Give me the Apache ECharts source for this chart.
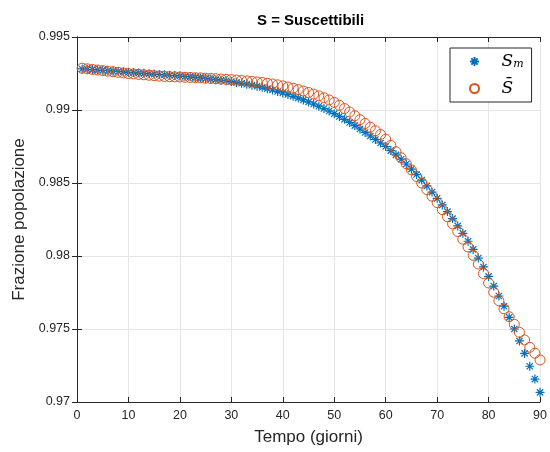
<!DOCTYPE html>
<html>
<head>
<meta charset="UTF-8">
<title>S = Suscettibili</title>
<style>
  *{margin:0;padding:0;}
  body{background:#fff;}
  #chart{width:550px;height:452px;}
</style>
</head>
<body>
<div id="chart"></div>
<script src="https://cdn.jsdelivr.net/npm/echarts@6/dist/echarts.min.js"></script>
<script>
// giorni 1..90
var giorni = [];
for (var g = 1; g <= 90; g++) giorni.push(g);

// S_m (asterischi blu)
var sMedio = [
  0.99281, 0.99279, 0.99277, 0.99274, 0.99272, 0.99269, 0.99266, 0.99264, 0.99261, 0.99258,
  0.99256, 0.99253, 0.99251, 0.99248, 0.99246, 0.99243, 0.99241, 0.99238, 0.99236, 0.99233,
  0.99230, 0.99227, 0.99223, 0.99220, 0.99216, 0.99212, 0.99208, 0.99204, 0.99200, 0.99195,
  0.99189, 0.99183, 0.99177, 0.99170, 0.99163, 0.99155, 0.99146, 0.99137, 0.99127, 0.99117,
  0.99106, 0.99094, 0.99082, 0.99069, 0.99055, 0.99041, 0.99026, 0.99010, 0.98993, 0.98975,
  0.98956, 0.98936, 0.98915, 0.98893, 0.98870, 0.98846, 0.98822, 0.98798, 0.98774, 0.98750,
  0.98722, 0.98693, 0.98663, 0.98630, 0.98595, 0.98558, 0.98520, 0.98480, 0.98438, 0.98395,
  0.98350, 0.98304, 0.98256, 0.98206, 0.98155, 0.98101, 0.98045, 0.97986, 0.97925, 0.97860,
  0.97794, 0.97726, 0.97656, 0.97580, 0.97500, 0.97418, 0.97333, 0.97245, 0.97157, 0.97066
];

// S barrato (cerchi arancioni)
var sBarra = [
  0.99286, 0.99282, 0.99278, 0.99274, 0.99270, 0.99266, 0.99262, 0.99258, 0.99254, 0.99250,
  0.99247, 0.99244, 0.99241, 0.99238, 0.99235, 0.99232, 0.99230, 0.99228, 0.99227, 0.99226,
  0.99224, 0.99223, 0.99221, 0.99220, 0.99218, 0.99216, 0.99214, 0.99212, 0.99210, 0.99208,
  0.99205, 0.99202, 0.99199, 0.99196, 0.99192, 0.99188, 0.99183, 0.99178, 0.99172, 0.99165,
  0.99157, 0.99149, 0.99140, 0.99130, 0.99120, 0.99109, 0.99097, 0.99084, 0.99069, 0.99052,
  0.99032, 0.99010, 0.98986, 0.98961, 0.98934, 0.98908, 0.98882, 0.98858, 0.98832, 0.98800,
  0.98758, 0.98714, 0.98673, 0.98632, 0.98590, 0.98545, 0.98500, 0.98455, 0.98410, 0.98365,
  0.98318, 0.98269, 0.98220, 0.98168, 0.98115, 0.98062, 0.98005, 0.97945, 0.97880, 0.97815,
  0.97752, 0.97694, 0.97638, 0.97584, 0.97532, 0.97477, 0.97425, 0.97375, 0.97334, 0.97288
];

var xTicks = [0, 10, 20, 30, 40, 50, 60, 70, 80, 90];
var yTicks = [0.97, 0.975, 0.98, 0.985, 0.99, 0.995];

function coppie(ys) {
  return giorni.map(function (x, i) { return [x, ys[i]]; });
}

var asterisco = 'path://M5 0L5 10M0 5L10 5M1.5 1.5L8.5 8.5M1.5 8.5L8.5 1.5';
var nero = '#262626';
var griglia = '#e5e5e5';

var chart = echarts.init(document.getElementById('chart'));
chart.setOption({
  backgroundColor: '#fff',
  animation: false,
  title: {
    text: 'S = Suscettibili',
    left: 252, top: 8,
    textStyle: { fontFamily: 'Liberation Sans', fontSize: 15, fontWeight: 'bold', color: '#000' }
  },
  legend: {
    left: 450, top: 48,
    orient: 'vertical',
    backgroundColor: '#fff',
    borderColor: nero, borderWidth: 1, borderRadius: 0,
    padding: [5, 8, 5, 19],
    itemWidth: 44, itemHeight: 9, itemGap: 10,
    data: ['Sm', 'Sbar'],
    formatter: function (n) { return n === 'Sm' ? '{s|S}{m|m}' : '{s|S\u0304}'; },
    textStyle: {
      rich: {
        s: { fontFamily: 'DejaVu Serif', fontStyle: 'italic', fontSize: 17, color: '#000', height: 14, lineHeight: 14 },
        m: { fontFamily: 'DejaVu Serif', fontStyle: 'italic', fontSize: 11, color: '#000', verticalAlign: 'bottom', padding: [6, 0, 0, 0] }
      }
    }
  },
  grid: { left: 77, right: 9, top: 37, bottom: 50, containLabel: false },
  xAxis: [{
    type: 'value', min: 0, max: 90, interval: 10,
    name: 'Tempo (giorni)', nameLocation: 'middle', nameGap: 27,
    nameTextStyle: { fontFamily: 'Liberation Sans', fontSize: 17, color: nero },
    axisLine: { lineStyle: { color: nero, width: 1 } },
    axisTick: { inside: true, length: 5, lineStyle: { color: nero } },
    axisLabel: { margin: 7, fontFamily: 'Liberation Sans', fontSize: 12.5, color: nero },
    splitLine: { show: true, lineStyle: { color: griglia, width: 1 } }
  }, {
    type: 'value', min: 0, max: 90, interval: 10, position: 'top',
    axisLine: { lineStyle: { color: nero, width: 1 } },
    axisTick: { inside: true, length: 5, lineStyle: { color: nero } },
    axisLabel: { show: false }, splitLine: { show: false }
  }],
  yAxis: [{
    type: 'value', min: 0.97, max: 0.995, interval: 0.005,
    name: 'Frazione popolazione', nameLocation: 'middle', nameGap: 48,
    nameTextStyle: { fontFamily: 'Liberation Sans', fontSize: 17, color: nero },
    axisLine: { show: true, lineStyle: { color: nero, width: 1 } },
    axisTick: { show: true, inside: true, length: 5, lineStyle: { color: nero } },
    axisLabel: {
      margin: 7, fontFamily: 'Liberation Sans', fontSize: 12.5, color: nero,
      formatter: function (v) { return String(parseFloat(v.toFixed(3))); }
    },
    splitLine: { show: true, lineStyle: { color: griglia, width: 1 } }
  }, {
    type: 'value', min: 0.97, max: 0.995, interval: 0.005, position: 'right',
    axisLine: { show: true, lineStyle: { color: nero, width: 1 } },
    axisTick: { show: true, inside: true, length: 5, lineStyle: { color: nero } },
    axisLabel: { show: false }, splitLine: { show: false }
  }],
  series: [{
    name: 'Sm', type: 'scatter',
    data: coppie(sMedio),
    symbol: asterisco, symbolSize: 9,
    itemStyle: { color: 'rgba(0,0,0,0)', borderColor: '#0072BD', borderWidth: 1.2, opacity: 1 },
    emphasis: { disabled: true }
  }, {
    name: 'Sbar', type: 'scatter',
    data: coppie(sBarra),
    symbol: 'circle', symbolSize: 10,
    itemStyle: { color: 'rgba(0,0,0,0)', borderColor: '#D95319', borderWidth: 1, opacity: 1 },
    emphasis: { disabled: true }
  }]
});
</script>
</body>
</html>
